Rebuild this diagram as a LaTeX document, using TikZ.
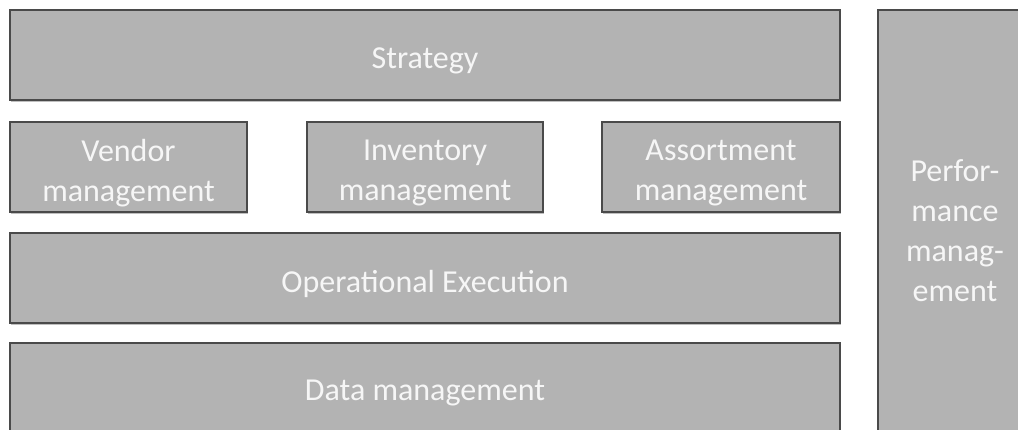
\documentclass[tikz,border=0pt]{standalone}
\usepackage{fontspec}
\setmainfont{Carlito}
\usetikzlibrary{shadows}
\definecolor{boxfill}{HTML}{B3B3B3}
\definecolor{boxline}{HTML}{4A4A4A}
\definecolor{boxtext}{HTML}{F6F6F6}
\begin{document}
\begin{tikzpicture}[x=1pt,y=-1pt,
  layer/.style={rectangle, draw=boxline, line width=1.3pt, fill=boxfill,
    inner sep=0pt,
    drop shadow={shadow xshift=0.8pt, shadow yshift=-1.6pt, opacity=0.25, fill=black}},
  label/.style={text=boxtext, inner sep=0pt, align=center,
    font=\fontsize{32}{40}\selectfont}]
\useasboundingbox (0,0) rectangle (1018,430);
\clip (0,0) rectangle (1018,430);
\node[layer, minimum width=830pt, minimum height=90pt] (strategy) at (425,55) {};
\node[layer, minimum width=237pt, minimum height=90pt] (vendor) at (128.5,167) {};
\node[layer, minimum width=236pt, minimum height=90pt] (inventory) at (425,167) {};
\node[layer, minimum width=238pt, minimum height=90pt] (assortment) at (721,167) {};
\node[layer, minimum width=830pt, minimum height=90pt] (operational) at (425,278) {};
\node[layer, minimum width=830pt, minimum height=94pt] (data) at (425,390) {};
\node[layer, minimum width=154pt, minimum height=436pt] (performance) at (955,228) {};
\node[label] (strategyT) at ([yshift=-6pt]strategy.center) {Strategy};
\node[label] (vendorT) at ([yshift=-6pt]vendor.center) {Vendor\\management};
\node[label] (inventoryT) at ([yshift=-6pt]inventory.center) {Inventory\\management};
\node[label] (assortmentT) at ([yshift=-6pt]assortment.center) {Assortment\\management};
\node[label] (operationalT) at ([yshift=-6pt]operational.center) {Operational Execution};
\node[label] (dataT) at ([yshift=-3pt]data.center) {Data management};
\node[label] (performanceT) at ([yshift=-3pt]performance.center) {Perfor-\\mance\\manag-\\ement};
\end{tikzpicture}
\end{document}
